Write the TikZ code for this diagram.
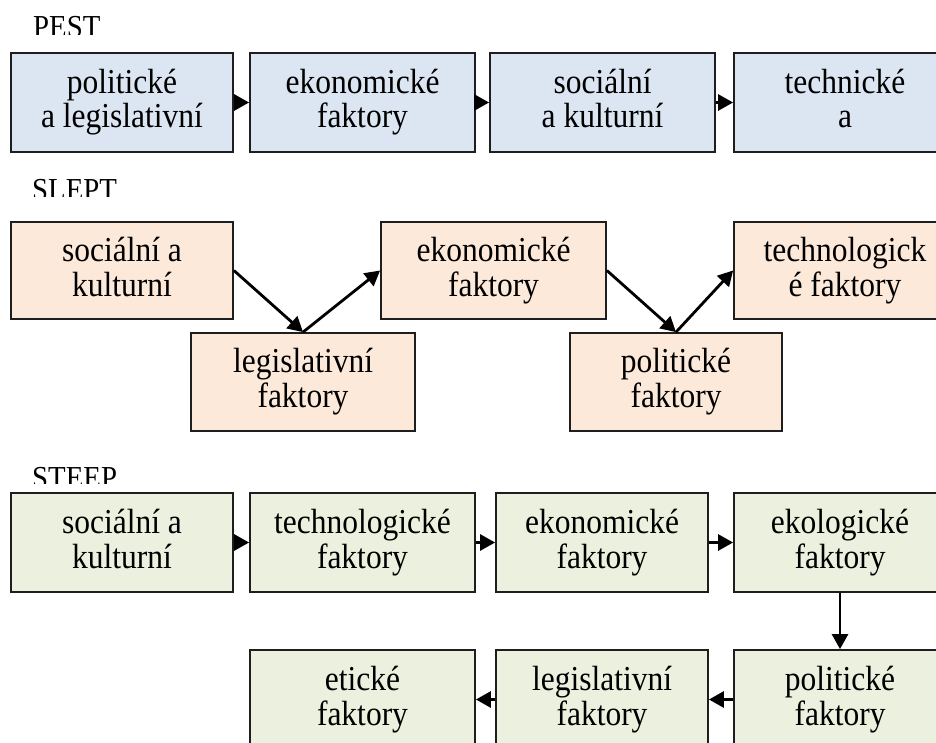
\documentclass[tikz,border=0pt]{standalone}
\usepackage{fontspec}
\setmainfont[FakeStretch=0.9]{Liberation Serif}
\usetikzlibrary{arrows.meta}
\definecolor{pestfill}{HTML}{DCE6F2}
\definecolor{sleptfill}{HTML}{FDE9D9}
\definecolor{steepfill}{HTML}{EBF1DE}
\definecolor{okraj}{HTML}{1E1E1E}

\begin{document}
\begin{tikzpicture}[x=1pt,y=-1pt,
	box/.style={draw=okraj,line width=1.8pt,inner sep=0pt,align=center,minimum height=99pt,font=\fontsize{35}{35}\selectfont,execute at end node={\vphantom{y}}},
	pestbox/.style={box,fill=pestfill,font=\fontsize{35}{34}\selectfont},
	nadpis/.style={anchor=base west,inner sep=0pt,font=\fontsize{32}{32}\selectfont},
	sipka/.style={-{Triangle[length=15pt,width=16pt]},line width=2.8pt}]
	\useasboundingbox (0,0) rectangle (936,743);
	\clip (0,0) rectangle (936,743);
	\newcommand{\RADA}{102.5}
	\newcommand{\RADB}{270.5}
	\newcommand{\RADC}{382}
	\newcommand{\RADD}{542.5}
	\newcommand{\RADE}{699.5}
	\begin{scope}
		\clip (0,0) rectangle (300,35);
		\node[nadpis](PEST) at (33,38){PEST};
	\end{scope}
	\begin{scope}
		\clip (0,150) rectangle (300,197);
		\node[nadpis](SLEPT) at (32,200.5){SLEPT};
	\end{scope}
	\begin{scope}
		\clip (0,440) rectangle (300,483);
		\node[nadpis](STEEP) at (32,488){STEEP};
	\end{scope}
	\node[pestbox,minimum width=222pt](PA) at (122,\RADA){politické\\a legislativní};
	\node[pestbox,minimum width=225pt](PB) at (362.5,\RADA){ekonomické\\faktory};
	\node[pestbox,minimum width=225pt](PC) at (602.5,\RADA){sociální\\a kulturní};
	\node[pestbox,minimum width=222pt](PD) at (845,\RADA){technické\\a};
	\draw [sipka] (PA) -- (PB);
	\draw [sipka] (PB) -- (PC);
	\draw [sipka] (PC) -- (PD);
	\node[box,fill=sleptfill,minimum width=222pt,minimum height=97pt](SA) at (122,\RADB){sociální a\\kulturní};
	\node[box,fill=sleptfill,minimum width=224pt,minimum height=98pt](SB) at (303,\RADC){legislativní\\faktory};
	\node[box,fill=sleptfill,minimum width=225pt,minimum height=97pt](SC) at (493.5,\RADB){ekonomické\\faktory};
	\node[box,fill=sleptfill,minimum width=212pt,minimum height=98pt](SD) at (676,\RADC){politické\\faktory};
	\node[box,fill=sleptfill,minimum width=222pt,minimum height=97pt](SE) at (845,\RADB){technologick\\é faktory};
	\draw [sipka] (SA.east) -- (SB.north);
	\draw [sipka] (SB.north) -- (SC.west);
	\draw [sipka] (SC.east) -- (SD.north);
	\draw [sipka] (SD.north) -- (SE.west);
	\node[box,fill=steepfill,minimum width=222pt](TA) at (122,\RADD){sociální a\\kulturní};
	\node[box,fill=steepfill,minimum width=225pt](TB) at (362.5,\RADD){technologické\\faktory};
	\node[box,fill=steepfill,minimum width=212pt](TC) at (602,\RADD){ekonomické\\faktory};
	\node[box,fill=steepfill,minimum width=212pt](TD) at (840,\RADD){ekologické\\faktory};
	\node[box,fill=steepfill,minimum width=212pt](TE) at (840,\RADE){politické\\faktory};
	\node[box,fill=steepfill,minimum width=212pt](TF) at (602,\RADE){legislativní\\faktory};
	\node[box,fill=steepfill,minimum width=225pt](TG) at (362.5,\RADE){etické\\faktory};
	\draw [sipka] (TA) -- (TB);
	\draw [sipka] (TB) -- (TC);
	\draw [sipka] (TC) -- (TD);
	\draw [sipka] (TD) -- (TE);
	\draw [sipka] (TE) -- (TF);
	\draw [sipka] (TF) -- (TG);
\end{tikzpicture}
\end{document}
